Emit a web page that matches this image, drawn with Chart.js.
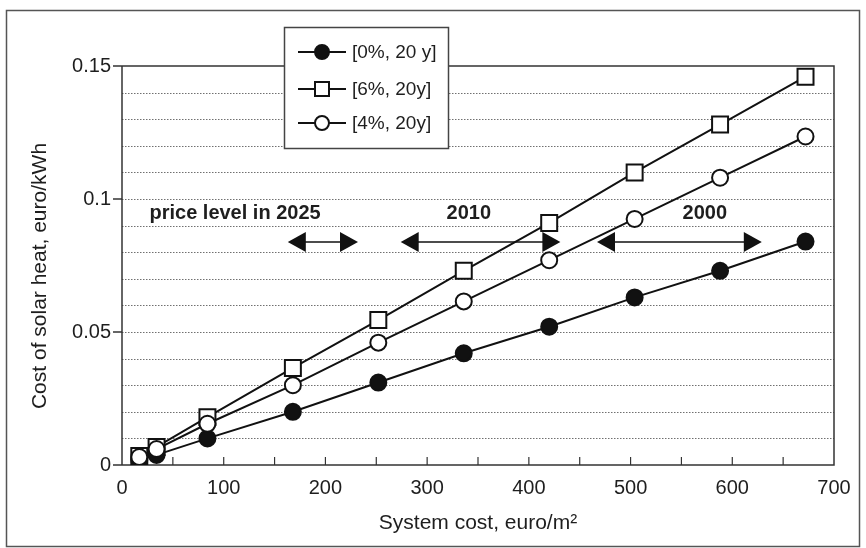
<!DOCTYPE html>
<html>
<head>
<meta charset="utf-8">
<script src="https://cdn.jsdelivr.net/npm/chart.js@4.4.1/dist/chart.umd.min.js"></script>
<style>
  html, body { margin: 0; padding: 0; background: #fff; }
  canvas { display: block; }
</style>
</head>
<body>
<canvas id="chart" width="866" height="548"></canvas>
<script>
// System cost (euro/m²) at which the cost of solar heat was evaluated
const systemCost = [17, 34, 84, 168, 252, 336, 420, 504, 588, 672];

// Cost of solar heat (euro/kWh) for each financing case [interest rate, lifetime]
const heat0pct20y = [0.002, 0.0038, 0.010, 0.020, 0.031, 0.042, 0.052, 0.063, 0.073, 0.084];
const heat6pct20y = [0.0034, 0.0068, 0.018, 0.0365, 0.0545, 0.073, 0.091, 0.110, 0.128, 0.146];
const heat4pct20y = [0.003, 0.006, 0.0155, 0.030, 0.046, 0.0615, 0.077, 0.0925, 0.108, 0.1235];

const seriesNames = ['[0%, 20 y]', '[6%, 20y]', '[4%, 20y]'];

const xTickLabels = ['0', '100', '200', '300', '400', '500', '600', '700'];
const yTickLabels = ['0', '0.05', '0.1', '0.15'];
const yAxisTitle = 'Cost of solar heat, euro/kWh';

// Expected system-cost ranges (euro/m²) by year
const periodNames = ['price level in 2025', '2010', '2000'];
const periodFrom = [163, 274, 467];
const periodTo = [232, 431, 629];

const FONT = '"Liberation Sans", Arial, sans-serif';
const INK = '#1e1e1e';

function pairs(ys) { return systemCost.map((x, i) => ({ x, y: ys[i] })); }

const styles = {
  filled: { pointStyle: 'circle', radius: 8, bg: '#111', border: '#111' },
  square: { pointStyle: 'rect', radius: 11.3, bg: '#fff', border: '#111' },
  open:   { pointStyle: 'circle', radius: 8, bg: '#fff', border: '#111' }
};

function ds(label, data, st) {
  return {
    label, data: pairs(data),
    borderColor: '#111', borderWidth: 2, tension: 0, fill: false,
    pointStyle: st.pointStyle, pointRadius: st.radius, pointBorderWidth: 2,
    pointBackgroundColor: st.bg, pointBorderColor: st.border
  };
}

function line(ctx, x1, y1, x2, y2) {
  ctx.beginPath(); ctx.moveTo(x1, y1); ctx.lineTo(x2, y2); ctx.stroke();
}

// Gridlines, axis lines, tick marks, period arrows, legend and frame
const framePlugin = {
  id: 'framePlugin',
  beforeDatasetsDraw(chart) {
    const { ctx, chartArea: a, scales: { x, y } } = chart;
    ctx.save();
    ctx.strokeStyle = '#707070';
    ctx.lineWidth = 1;
    ctx.setLineDash([1.5, 1.5]);
    for (let k = 1; k < 15; k++) {
      const py = Math.round(y.getPixelForValue(k / 100)) + 0.5;
      line(ctx, a.left, py, a.right, py);
    }
    ctx.setLineDash([]);
    ctx.strokeStyle = '#333';
    ctx.lineWidth = 1.5;
    // plot box
    ctx.beginPath();
    ctx.moveTo(a.left - 9, a.bottom);
    ctx.lineTo(a.right, a.bottom);
    ctx.lineTo(a.right, a.top);
    ctx.lineTo(a.left - 9, a.top);
    ctx.stroke();
    line(ctx, a.left, a.top, a.left, a.bottom);
    // y tick marks (outside)
    [0.05, 0.1].forEach(v => {
      const py = y.getPixelForValue(v);
      line(ctx, a.left - 9, py, a.left, py);
    });
    // x tick marks (inside)
    ctx.lineWidth = 1.2;
    for (let v = 50; v < 700; v += 50) {
      const px = x.getPixelForValue(v);
      line(ctx, px, a.bottom, px, a.bottom - 8);
    }
    // y axis title
    ctx.fillStyle = INK;
    ctx.font = '21px ' + FONT;
    ctx.textAlign = 'center';
    ctx.textBaseline = 'middle';
    ctx.translate(40, 276);
    ctx.rotate(-Math.PI / 2);
    ctx.fillText(yAxisTitle, 0, 0);
    ctx.restore();
  },
  afterDatasetsDraw(chart) {
    const { ctx, scales: { x, y } } = chart;
    ctx.save();
    // period arrows
    const ay = y.getPixelForValue(0.0838);
    ctx.fillStyle = '#111';
    ctx.strokeStyle = '#111';
    ctx.lineWidth = 1.5;
    periodNames.forEach((name, i) => {
      const x1 = x.getPixelForValue(periodFrom[i]);
      const x2 = x.getPixelForValue(periodTo[i]);
      line(ctx, x1 + 10, ay, x2 - 10, ay);
      ctx.beginPath();
      ctx.moveTo(x1, ay); ctx.lineTo(x1 + 18, ay - 10); ctx.lineTo(x1 + 18, ay + 10); ctx.closePath(); ctx.fill();
      ctx.beginPath();
      ctx.moveTo(x2, ay); ctx.lineTo(x2 - 18, ay - 10); ctx.lineTo(x2 - 18, ay + 10); ctx.closePath(); ctx.fill();
    });
    // period labels
    ctx.fillStyle = INK;
    ctx.font = 'bold 20px ' + FONT;
    ctx.textBaseline = 'middle';
    const ty = y.getPixelForValue(0.0947);
    ctx.textAlign = 'left';
    ctx.fillText(periodNames[0], x.getPixelForValue(27), ty);
    ctx.textAlign = 'center';
    ctx.fillText(periodNames[1], x.getPixelForValue(341), ty);
    ctx.fillText(periodNames[2], x.getPixelForValue(573), ty);
    ctx.restore();
  },
  afterDraw(chart) {
    const { ctx } = chart;
    ctx.save();
    // outer frame
    ctx.strokeStyle = '#555';
    ctx.lineWidth = 1.5;
    ctx.strokeRect(6.5, 10.5, 853, 536);
    // legend box
    ctx.fillStyle = '#fff';
    ctx.fillRect(284, 27, 164, 121);
    ctx.strokeStyle = '#444';
    ctx.strokeRect(284.5, 27.5, 164, 121);
    const rows = [52, 89, 123];
    const legendStyles = [
      { type: 'circle', r: 7, fill: '#111' },
      { type: 'rect', r: 7, fill: '#fff' },
      { type: 'circle', r: 7, fill: '#fff' }
    ];
    rows.forEach((ry, i) => {
      ctx.strokeStyle = '#111';
      ctx.lineWidth = 2;
      line(ctx, 298, ry, 346, ry);
      const st = legendStyles[i];
      ctx.fillStyle = st.fill;
      ctx.beginPath();
      if (st.type === 'circle') ctx.arc(322, ry, st.r, 0, Math.PI * 2);
      else ctx.rect(322 - st.r, ry - st.r, st.r * 2, st.r * 2);
      ctx.fill();
      ctx.stroke();
      ctx.fillStyle = INK;
      ctx.font = '19px ' + FONT;
      ctx.textAlign = 'left';
      ctx.textBaseline = 'middle';
      ctx.fillText(seriesNames[i], 352, ry + 1);
    });
    ctx.restore();
  }
};

new Chart(document.getElementById('chart'), {
  type: 'line',
  data: {
    // first dataset is drawn on top
    datasets: [
      ds(seriesNames[2], heat4pct20y, styles.open),
      ds(seriesNames[0], heat0pct20y, styles.filled),
      ds(seriesNames[1], heat6pct20y, styles.square)
    ]
  },
  plugins: [framePlugin],
  options: {
    responsive: false,
    animation: false,
    devicePixelRatio: 1,
    layout: { padding: { left: 0, right: 32, top: 66, bottom: 0 }, autoPadding: false },
    plugins: { legend: { display: false }, tooltip: { enabled: false } },
    scales: {
      x: {
        type: 'linear', min: 0, max: 700,
        ticks: {
          stepSize: 100, color: INK, padding: 3, maxRotation: 0,
          font: { family: FONT, size: 20 },
          callback: (v, i) => xTickLabels[i]
        },
        grid: { display: false },
        border: { display: false },
        title: {
          display: true, text: 'System cost, euro/m²', color: INK,
          font: { family: FONT, size: 21 }, padding: { top: 0, bottom: 12 }
        },
        afterFit(s) { s.height = 83; }
      },
      y: {
        type: 'linear', min: 0, max: 0.15,
        ticks: {
          stepSize: 0.05, color: INK, padding: 3,
          font: { family: FONT, size: 20 },
          callback: (v, i) => yTickLabels[i]
        },
        grid: { display: false },
        border: { display: false },
        afterFit(s) { s.width = 122; }
      }
    }
  }
});
</script>
</body>
</html>
